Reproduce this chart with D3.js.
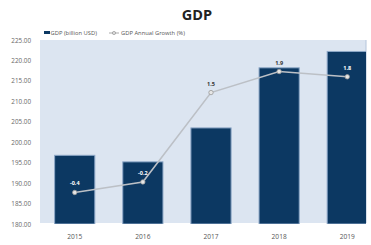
<!DOCTYPE html>
<html>
<head>
<meta charset="utf-8">
<script src="https://cdn.jsdelivr.net/npm/d3@7"></script>
<style>
  body { margin: 0; background: #fff; }
  svg { display: block; font-family: "Open Sans", "Liberation Sans", sans-serif; }
</style>
</head>
<body>
<div id="chart"></div>
<script>
// GDP bars with growth line on a hidden second axis

var years = ["2015", "2016", "2017", "2018", "2019"];
var gdp = [196.8, 195.2, 203.5, 218.2, 222.2];
var growth = [-0.4, -0.2, 1.5, 1.9, 1.8];
var gdpTicks = [180, 185, 190, 195, 200, 205, 210, 215, 220, 225];

var width = 371, height = 245;
var plot = { left: 40, right: 366, top: 40, bottom: 223 };

var svg = d3.select("#chart").append("svg")
    .attr("width", width)
    .attr("height", height);

// bands run past the right edge, the source picture is cropped there
var x = d3.scaleBand()
    .domain(years)
    .range([41, 381])
    .paddingInner(0.41)
    .paddingOuter(0.2);

var y = d3.scaleLinear()
    .domain([180, 225])
    .range([224, 40]);

var y2 = d3.scaleLinear()
    .domain([-1, 2.5])
    .range([224, 40]);

var fmt1 = d3.formatLocale({ decimal: ".", thousands: ",", grouping: [3], currency: ["", ""], minus: "-" }).format(".1f");

svg.append("rect")
    .attr("x", plot.left)
    .attr("y", plot.top)
    .attr("width", plot.right - plot.left)
    .attr("height", plot.bottom - plot.top)
    .attr("fill", "#dce5f1");

svg.append("line")
    .attr("x1", plot.right).attr("x2", plot.right)
    .attr("y1", plot.top).attr("y2", plot.bottom)
    .attr("stroke", "#b4c4da");

svg.append("text")
    .attr("x", 197)
    .attr("y", 20)
    .attr("text-anchor", "middle")
    .attr("font-size", 14.5)
    .attr("font-weight", "bold")
    .attr("fill", "#222")
    .text("GDP");

// y axis
var yAxis = svg.append("g")
    .attr("transform", "translate(34,0)")
    .call(d3.axisLeft(y).tickValues(gdpTicks).tickSize(0).tickFormat(d3.format(".2f")));
yAxis.select(".domain").remove();
yAxis.selectAll("text")
    .attr("font-size", 6.3)
    .attr("fill", "#666")
    .attr("font-family", "Open Sans, sans-serif");

// x axis
var xAxis = svg.append("g")
    .attr("transform", "translate(0,231)")
    .call(d3.axisBottom(x).tickSize(0));
xAxis.select(".domain").remove();
xAxis.selectAll("text")
    .attr("font-size", 6.6)
    .attr("fill", "#555")
    .attr("font-family", "Open Sans, sans-serif");

svg.append("clipPath").attr("id", "plotclip")
  .append("rect")
    .attr("x", plot.left).attr("y", plot.top)
    .attr("width", plot.right - plot.left)
    .attr("height", plot.bottom - plot.top + 1);

var g = svg.append("g").attr("clip-path", "url(#plotclip)");

g.selectAll(".bar")
    .data(years)
  .enter().append("rect")
    .attr("class", "bar")
    .attr("x", function(d) { return x(d); })
    .attr("width", x.bandwidth())
    .attr("y", function(d, i) { return y(gdp[i]); })
    .attr("height", function(d, i) { return y(180) - y(gdp[i]); })
    .attr("fill", "#0c3862")
    .attr("stroke", "#8ea8c8")
    .attr("stroke-width", 1);

var line = d3.line()
    .x(function(d, i) { return x(years[i]) + x.bandwidth() / 2; })
    .y(function(d) { return y2(d); });

g.append("path")
    .datum(growth)
    .attr("d", line)
    .attr("fill", "none")
    .attr("stroke", "#bcc0c6")
    .attr("stroke-width", 1.6);

g.selectAll(".pt")
    .data(growth)
  .enter().append("circle")
    .attr("class", "pt")
    .attr("cx", function(d, i) { return x(years[i]) + x.bandwidth() / 2; })
    .attr("cy", function(d) { return y2(d); })
    .attr("r", 2.2)
    .attr("fill", "#e6e6e6")
    .attr("stroke", "#9a9a9a")
    .attr("stroke-width", 0.8);

// labels are white when they sit on a bar
g.selectAll(".lbl")
    .data(growth)
  .enter().append("text")
    .attr("class", "lbl")
    .attr("x", function(d, i) { return x(years[i]) + x.bandwidth() / 2; })
    .attr("y", function(d) { return y2(d) - 7; })
    .attr("text-anchor", "middle")
    .attr("font-size", 5.5)
    .attr("font-weight", "bold")
    .attr("fill", function(d, i) { return y2(d) - 12 > y(gdp[i]) ? "#fff" : "#333"; })
    .text(function(d) { return fmt1(d); });

// legend
var leg = svg.append("g").attr("transform", "translate(44,33)");
leg.append("rect")
    .attr("x", 0).attr("y", -2)
    .attr("width", 6).attr("height", 3)
    .attr("fill", "#0c3862");
leg.append("text")
    .attr("x", 6.5).attr("y", 2)
    .attr("font-size", 5.8)
    .attr("fill", "#555")
    .text("GDP (billion USD)");
leg.append("line")
    .attr("x1", 65).attr("x2", 75)
    .attr("y1", 0).attr("y2", 0)
    .attr("stroke", "#aaa").attr("stroke-width", 1);
leg.append("circle")
    .attr("cx", 70).attr("cy", 0).attr("r", 1.6)
    .attr("fill", "#ddd").attr("stroke", "#888").attr("stroke-width", 0.6);
leg.append("text")
    .attr("x", 77).attr("y", 2)
    .attr("font-size", 5.8)
    .attr("fill", "#555")
    .text("GDP Annual Growth (%)");
</script>
</body>
</html>
